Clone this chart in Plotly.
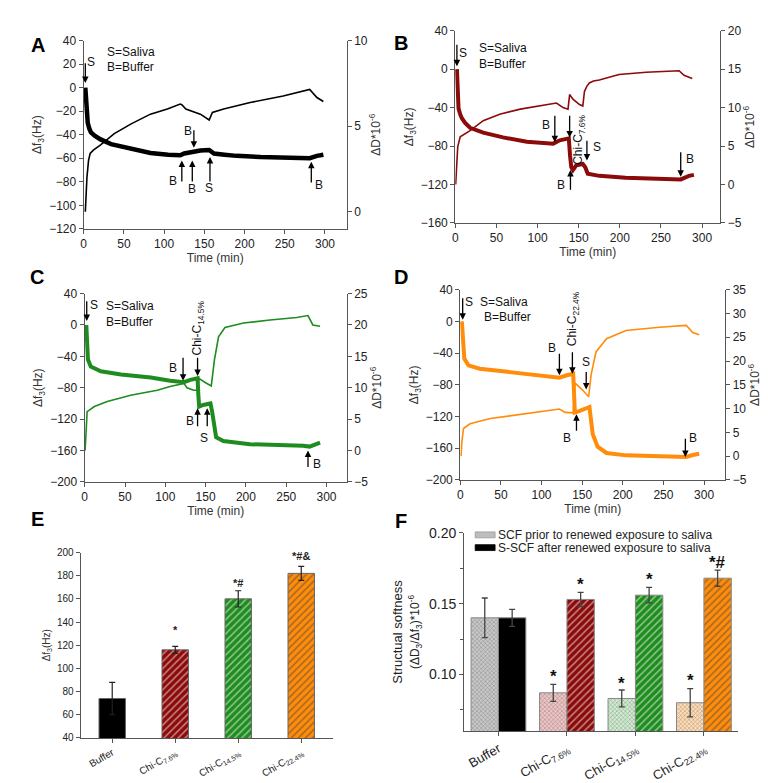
import plotly.graph_objects as go

# ---------------- data ----------------
# Panel A (buffer-only control, black)
A_t_f = [2, 3, 5, 7, 9, 14, 21, 34, 59, 83, 105, 120, 125, 135, 145, 156, 162, 175, 190, 220, 250, 281, 290, 298]
A_f = [0, -15, -30, -35, -38, -41, -44, -48, -52, -55.5, -57, -57.5, -56, -54.5, -53.5, -53, -56, -57, -58, -59, -59.5, -60, -58, -57]
A_t_D = [2, 4, 6, 8, 12, 21, 38, 59, 83, 104, 120, 122, 127, 145, 156, 158, 160, 174, 207, 248, 281, 290, 298]
A_D = [0, 2.0, 3.0, 3.4, 3.6, 3.9, 4.56, 5.13, 5.7, 6.0, 6.29, 6.25, 6.0, 5.7, 5.36, 5.6, 5.8, 6.0, 6.38, 6.76, 7.14, 6.67, 6.44]

# Panel B (Chi-C 7.6 %, dark red)
B_t_f = [2, 3, 4, 6, 8, 12, 18, 34, 58, 87, 110, 119, 127, 138, 139.5, 141, 143, 147, 155, 158, 161, 175, 207, 248, 274, 284, 290]
B_f = [0, -25, -41, -47, -51, -56, -61, -66, -71, -75.5, -77, -77.5, -74, -72, -90, -102, -105, -100, -98.6, -102, -108.8, -111, -113, -114, -114.7, -111, -110]
B_t_D = [0.5, 2, 3, 6, 18, 34, 54, 79, 103, 123, 131, 137, 139, 143, 151, 155, 157, 160, 163, 168, 175, 199, 232, 272, 278, 288]
B_D = [0, 3, 4.9, 6.2, 7.0, 8.3, 9.15, 9.8, 10.2, 10.6, 10.0, 9.8, 11.7, 11.1, 10.4, 10.2, 12.1, 12.8, 13.2, 13.45, 13.6, 14.3, 14.6, 14.8, 14.2, 13.8]

# Panel C (Chi-C 14.5 %, green)
C_t_f = [2, 3, 4, 7.5, 20, 45, 82, 106, 123, 131, 140, 141, 142, 147, 156, 158, 160, 163, 172, 205, 271, 279, 292]
C_f = [0, -25, -44, -53, -59, -63, -67, -71, -73, -70, -68, -90, -104, -102, -100, -110, -126.6, -143, -148, -152, -154, -155, -150]
C_t_D = [0.5, 2, 3, 12, 28, 57, 90, 106, 123, 127, 135, 140, 141.5, 150, 157, 161, 166, 174, 197, 230, 263, 277, 283, 292]
C_D = [0, 4, 6.2, 7.0, 7.8, 8.8, 9.6, 10.2, 10.7, 10.0, 9.6, 9.6, 11.5, 10.8, 10.3, 14.5, 18.1, 19.6, 20.3, 20.8, 21.2, 21.5, 20.0, 19.8]

# Panel D (Chi-C 22.4 %, orange)
D_t_f = [2, 3, 5, 10, 24, 61, 98, 122, 131, 139, 140, 141, 147, 155, 159, 161, 163, 169, 180, 204, 245, 278, 286, 294]
D_f = [0, -25, -47, -55.5, -59.7, -64, -68, -71, -68, -66, -90, -115, -113, -109, -108, -125, -142, -158, -166, -169, -170.5, -171, -168.5, -167]
D_t_D = [1, 2, 4, 12, 37, 82, 122, 129, 139, 140, 141, 150, 158, 161, 167, 180, 204, 245, 278, 286, 294]
D_D = [0, 3, 5.8, 6.8, 7.9, 8.9, 9.9, 9.2, 9.1, 12, 15.4, 14, 12.5, 17.1, 21.9, 24.7, 26.4, 27.1, 27.5, 26.0, 25.5]

# Panel E
E_categories = ["Buffer", "Chi-C<sub>7.6%</sub>", "Chi-C<sub>14.5%</sub>", "Chi-C<sub>22.4%</sub>"]
E_values = [74, 116, 160, 182]
E_errors = [14, 3, 7, 6]
E_marks = ["", "*", "*#", "*#&"]
E_mark_y = [0, 133, 174, 197]

# Panel F
F_categories = E_categories
F_series_names = ["SCF prior to renewed exposure to saliva", "S-SCF after renewed exposure to saliva"]
F_scf = [0.140, 0.087, 0.083, 0.080]
F_scf_err = [0.014, 0.006, 0.006, 0.010]
F_sscf = [0.140, 0.153, 0.156, 0.168]
F_sscf_err = [0.006, 0.005, 0.0055, 0.0057]
F_scf_marks = ["", "*", "*", "*"]
F_scf_mark_y = [0, 0.0988, 0.0938, 0.0956]
F_sscf_marks = ["", "*", "*", "*#"]
F_sscf_mark_y = [0, 0.1637, 0.1672, 0.1788]

# ---------------- styles ----------------
W, H = 768, 783
FONT = "Arial, Liberation Sans, sans-serif"
AX = "#555555"
BLACK = "#000000"
RED = "#8b0a0a"
GREEN = "#1e8c1e"
ORANGE = "#ff8c0a"


def dx(a, b):
    return [a / W, b / W]


def dy(top, bottom):
    return [1 - bottom / H, 1 - top / H]


fig = go.Figure()

panels = [
    ("A", "x", "y", "y2", A_t_f, A_f, A_t_D, A_D, BLACK, 4.5),
    ("B", "x2", "y3", "y4", B_t_f, B_f, B_t_D, B_D, RED, 4),
    ("C", "x3", "y5", "y6", C_t_f, C_f, C_t_D, C_D, GREEN, 4),
    ("D", "x4", "y7", "y8", D_t_f, D_f, D_t_D, D_D, ORANGE, 4),
]
for name, xa, yl, yr, tf, f, tD, D, col, lw in panels:
    fig.add_trace(go.Scatter(x=tD, y=D, xaxis=xa, yaxis=yr, mode="lines",
                             line=dict(color=col, width=1.6), showlegend=False, hoverinfo="skip"))
    fig.add_trace(go.Scatter(x=tf, y=f, xaxis=xa, yaxis=yl, mode="lines",
                             line=dict(color=col, width=lw), showlegend=False, hoverinfo="skip"))

# E bars
fig.add_trace(go.Bar(
    x=E_categories, y=E_values, xaxis="x5", yaxis="y9", width=0.42,
    marker=dict(color=[BLACK, RED, GREEN, ORANGE],
                line=dict(color="#666666", width=1),
                pattern=dict(shape=["", "/", "/", "/"],
                             fgcolor=["#000000", "#4a0000", "#0a5a0a", "#c86400"],
                             size=5, solidity=0.3, fillmode="overlay")),
    error_y=dict(type="data", array=E_errors, color="#222222", thickness=1.2, width=3),
    showlegend=False, hoverinfo="skip"))

# F bars
SCF_COLORS = ["#c8c8c8", "#efc4c4", "#cfeccf", "#ffdcb4"]
fig.add_trace(go.Bar(
    x=F_categories, y=F_scf, xaxis="x6", yaxis="y10", offsetgroup="a",
    name=F_series_names[0], showlegend=False,
    marker=dict(color=SCF_COLORS,
                line=dict(color="#888888", width=1),
                pattern=dict(shape="x", fgcolor=["#8a8a8a", "#c98888", "#8fc48f", "#f0b070"],
                             size=3, solidity=0.3, fillmode="overlay")),
    error_y=dict(type="data", array=F_scf_err, color="#444444", thickness=1.3, width=3),
    hoverinfo="skip"))
fig.add_trace(go.Bar(
    x=F_categories, y=F_sscf, xaxis="x6", yaxis="y10", offsetgroup="b",
    name=F_series_names[1], showlegend=False,
    marker=dict(color=[BLACK, RED, GREEN, ORANGE],
                line=dict(color="#888888", width=1),
                pattern=dict(shape=["", "/", "/", "/"],
                             fgcolor=["#000000", "#4a0000", "#0a5a0a", "#c86400"],
                             size=5, solidity=0.3, fillmode="overlay")),
    error_y=dict(type="data", array=F_sscf_err, color="#444444", thickness=1.3, width=3),
    hoverinfo="skip"))

tickfont = dict(family=FONT, size=12, color="#222222")
titlefont = dict(family=FONT, size=12, color="#333333")

common_axis = dict(showline=True, linecolor=AX, linewidth=1.2, ticks="outside", tickcolor=AX,
                   ticklen=4, tickwidth=1.2, showgrid=False, zeroline=False, tickfont=tickfont)

layout = dict(width=W, height=H, margin=dict(l=0, r=0, t=0, b=0), autosize=False,
              plot_bgcolor="white", paper_bgcolor="white", font=dict(family=FONT),
              barmode="group", bargap=0.2, bargroupgap=0, hovermode=False, showlegend=False)

ts = [
    ("xaxis", "yaxis", "yaxis2", dx(73, 337), dy(25, 217), 327, [-120, 40], 20, [-1, 10], 5),
    ("xaxis2", "yaxis3", "yaxis4", dx(446, 712), dy(15, 211), 322, [-160, 40], 40, [-5, 20], 5),
    ("xaxis3", "yaxis5", "yaxis6", dx(74, 337), dy(283, 475), 325, [-200, 40], 40, [-5, 25], 5),
    ("xaxis4", "yaxis7", "yaxis8", dx(451, 717), dy(279, 473), 326, [-200, 40], 40, [-5, 35], 5),
]
for xk, ylk, yrk, xd, yd, xmax, ylr, yld, yrr, yrd in ts:
    xid = "x" + xk[5:]
    ylid = "y" + ylk[5:]
    layout[xk] = dict(common_axis, domain=xd, anchor=ylid, range=[0, xmax], tick0=0, dtick=50,
                      title=dict(text="Time (min)", font=titlefont, standoff=2))
    layout[ylk] = dict(common_axis, domain=yd, anchor=xid, range=ylr, tick0=0, dtick=yld,
                       title=dict(text="Δf<sub>3</sub>(Hz)", font=titlefont, standoff=4))
    layout[yrk] = dict(common_axis, overlaying=ylid, side="right", anchor=xid, range=yrr,
                       tick0=0, dtick=yrd,
                       title=dict(text="ΔD*10<sup>-6</sup>", font=titlefont, standoff=4))

# E axes
layout["xaxis5"] = dict(common_axis, domain=dx(70, 323), anchor="y9", range=[-0.5, 3.5],
                        tickangle=-30, tickfont=dict(family=FONT, size=10, color="#222222"))
layout["yaxis9"] = dict(common_axis, domain=dy(547, 736), anchor="x5", range=[40, 200], dtick=20,
                        tickfont=dict(family=FONT, size=10, color="#222222"),
                        title=dict(text="Δf<sub>3</sub>(Hz)", font=dict(family=FONT, size=10, color="#333"),
                                   standoff=4))
# F axes
layout["xaxis6"] = dict(common_axis, domain=dx(455, 730), anchor="y10", range=[-0.5, 3.5],
                        tickangle=-30, tickfont=dict(family=FONT, size=13, color="#222222"))
layout["yaxis10"] = dict(common_axis, domain=dy(527, 729), anchor="x6", range=[0.06, 0.2],
                         tick0=0.1, dtick=0.05, tickformat=".2f",
                         minor=dict(ticks="outside", dtick=0.025, tick0=0.1, ticklen=3, tickcolor=AX),
                         tickfont=dict(family=FONT, size=14, color="#222222"),
                         title=dict(text="Structual softness<br><span style='font-size:12px'>(ΔD<sub>3</sub>/Δf<sub>3</sub>)*10<sup>-6</sup></span>",
                                    font=dict(family=FONT, size=13, color="#222"), standoff=6))

annotations = []
shapes = []


def arrow(xa, ya, t, head, tail):
    annotations.append(dict(x=t, y=head, ax=t, ay=tail, xref=xa, yref=ya, axref=xa, ayref=ya,
                            showarrow=True, arrowhead=2, arrowsize=1, arrowwidth=1.3,
                            arrowcolor="black", text="", standoff=0))


def label(xa, ya, t, y, text, size=12, angle=0, xanchor="center"):
    annotations.append(dict(x=t, y=y, xref=xa, yref=ya, text=text, showarrow=False,
                            textangle=angle, xanchor=xanchor,
                            font=dict(family=FONT, size=size, color="#111")))


# Panel A annotations
arrow("x", "y", 2, 4, 22); label("x", "y", 9, 22, "S")
label("x", "y", 27, 30.5, "S=Saliva", xanchor="left"); label("x", "y", 27, 17.5, "B=Buffer", xanchor="left")
arrow("x", "y", 122, -62, -81); label("x", "y", 111, -79, "B")
arrow("x", "y", 135, -62, -81); label("x", "y", 135, -86, "B")
arrow("x", "y", 157, -59, -81); label("x", "y", 156, -85, "S")
arrow("x", "y", 137, -51, -35); label("x", "y", 130, -37, "B")
arrow("x", "y", 283, -63, -82); label("x", "y", 292, -83, "B")

# Panel B annotations
arrow("x2", "y3", 2, 3, 27); label("x2", "y3", 10, 17, "S")
label("x2", "y3", 26, 22, "S=Saliva", xanchor="left"); label("x2", "y3", 26, 5.8, "B=Buffer", xanchor="left")
arrow("x2", "y3", 121, -76, -47); label("x2", "y3", 110, -58, "B")
arrow("x2", "y3", 139, -71, -47)
label("x2", "y3", 151, -74, "Chi-C<sub>7.6%</sub>", angle=-90)
arrow("x2", "y3", 160, -95, -73); label("x2", "y3", 172, -81, "S")
arrow("x2", "y3", 140, -105, -127); label("x2", "y3", 129, -121, "B")
arrow("x2", "y3", 274, -112, -85); label("x2", "y3", 285, -93, "B")

# Panel C annotations
arrow("x3", "y5", 2.5, 5, 32); label("x3", "y5", 12, 26, "S")
label("x3", "y5", 24.5, 24, "S=Saliva", xanchor="left"); label("x3", "y5", 24.5, 4, "B=Buffer", xanchor="left")
arrow("x3", "y5", 122, -71, -40); label("x3", "y5", 109, -55, "B")
arrow("x3", "y5", 140, -65, -40)
label("x3", "y5", 141, -4, "Chi-C<sub>14.5%</sub>", angle=-90)
arrow("x3", "y5", 140, -106, -131); label("x3", "y5", 130, -123, "B")
arrow("x3", "y5", 152, -106, -131); label("x3", "y5", 148, -144, "S")
arrow("x3", "y5", 277, -160, -183); label("x3", "y5", 288, -177, "B")

# Panel D annotations
arrow("x4", "y7", 3, 2, 31); label("x4", "y7", 11, 25, "S")
label("x4", "y7", 22, 25, "S=Saliva", xanchor="left"); label("x4", "y7", 27, 6, "B=Buffer", xanchor="left")
arrow("x4", "y7", 122, -68, -39); label("x4", "y7", 113, -33, "B")
arrow("x4", "y7", 138, -66, -37)
label("x4", "y7", 139, 3, "Chi-C<sub>22.4%</sub>", angle=-90)
arrow("x4", "y7", 155, -86, -62); label("x4", "y7", 155, -51, "S")
arrow("x4", "y7", 143, -117, -140); label("x4", "y7", 131, -147, "B")
arrow("x4", "y7", 277, -171, -146); label("x4", "y7", 286, -147, "B")

# E significance marks
for c, m, yv in zip(E_categories, E_marks, E_mark_y):
    if m:
        annotations.append(dict(x=c, y=yv, xref="x5", yref="y9", text="<b>" + m + "</b>", showarrow=False,
                                font=dict(family=FONT, size=11, color="#222")))
# F significance marks
for i, (m, yv) in enumerate(zip(F_scf_marks, F_scf_mark_y)):
    if m:
        annotations.append(dict(x=i - 0.2, y=yv, xref="x6", yref="y10", text="<b>" + m + "</b>",
                                showarrow=False, font=dict(family=FONT, size=17, color="#111")))
for i, (m, yv) in enumerate(zip(F_sscf_marks, F_sscf_mark_y)):
    if m:
        annotations.append(dict(x=i + 0.2, y=yv, xref="x6", yref="y10", text="<b>" + m + "</b>",
                                showarrow=False, font=dict(family=FONT, size=17, color="#111")))

# F legend (compact, drawn manually)
legend_rows = [(529, "#bdbdbd", "#9a9a9a"), (542, "#000000", "#000000")]
for (yc, fill, edge), nm in zip(legend_rows, F_series_names):
    shapes.append(dict(type="rect", xref="paper", yref="paper",
                       x0=466 / W, x1=486 / W, y0=1 - (yc + 3) / H, y1=1 - (yc - 3) / H,
                       fillcolor=fill, line=dict(color=edge, width=0.8)))
    annotations.append(dict(x=487 / W, y=1 - yc / H, xref="paper", yref="paper", text=nm,
                            showarrow=False, xanchor="left", yanchor="middle",
                            font=dict(family=FONT, size=12, color="#222")))

# panel letters
for txt, px, py in [("A", 18, 16), ("B", 392, 14), ("C", 17, 266), ("D", 392, 266), ("E", 18, 526), ("F", 392, 528)]:
    annotations.append(dict(x=px / W, y=1 - py / H, xref="paper", yref="paper", text="<b>" + txt + "</b>",
                            showarrow=False, font=dict(family=FONT, size=20, color="#000")))

layout["annotations"] = annotations
layout["shapes"] = shapes
fig.update_layout(**layout)
fig.write_html("out.html", config={"displayModeBar": False})
